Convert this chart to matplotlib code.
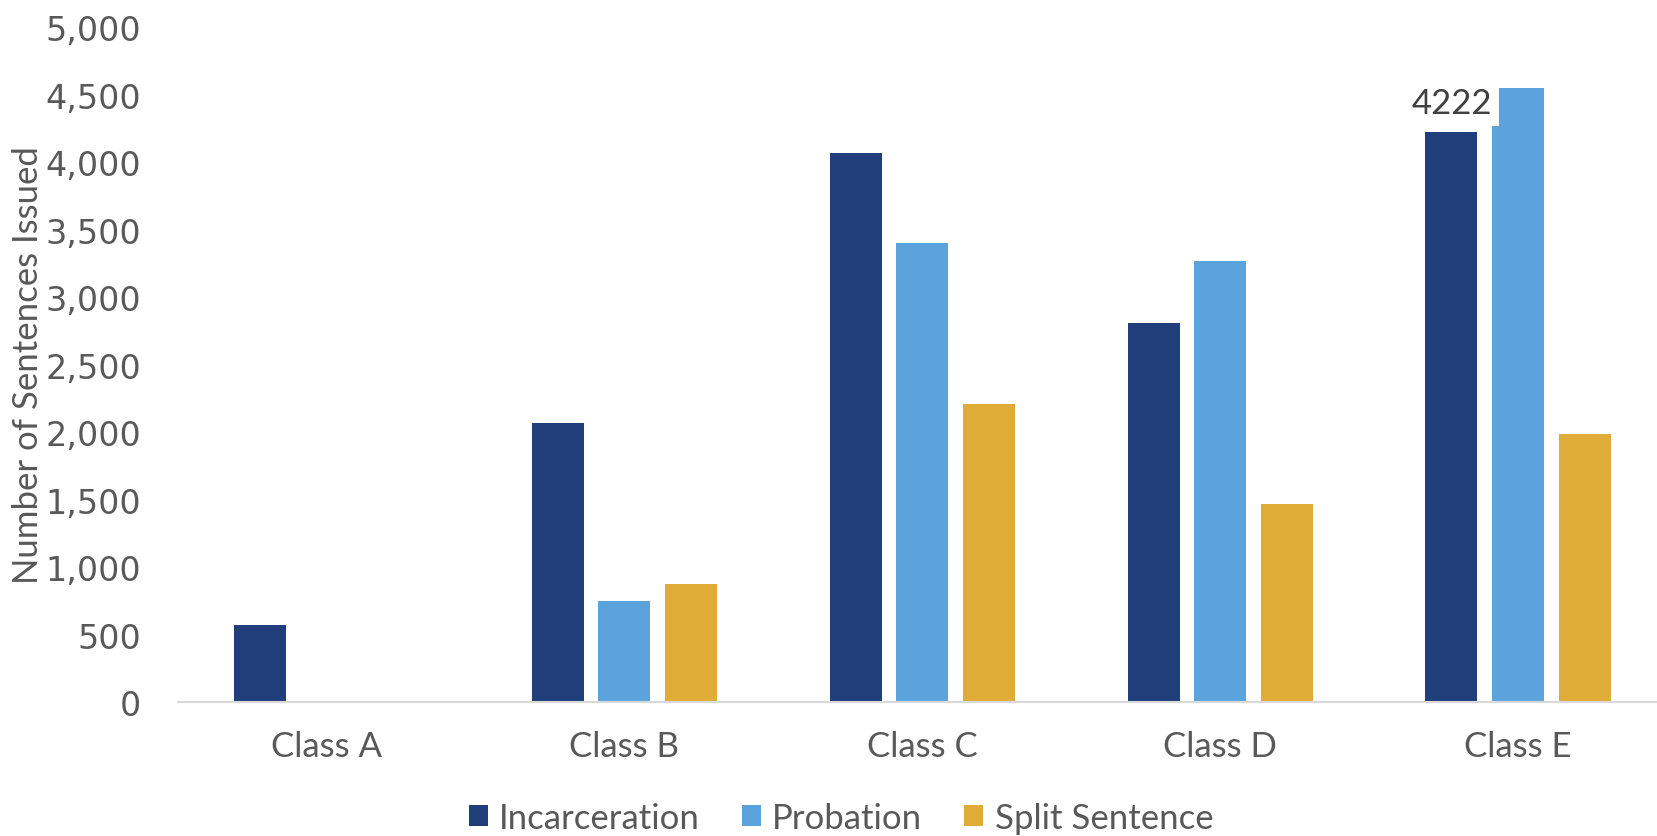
import matplotlib
matplotlib.use("Agg")
import matplotlib.pyplot as plt
import numpy as np
from matplotlib.ticker import FuncFormatter

categories = ["Class A", "Class B", "Class C", "Class D", "Class E"]
series_names = ["Incarceration", "Probation", "Split Sentence"]
incarceration = [572, 2069, 4067, 2806, 4222]
probation = [0, 752, 3401, 3268, 4553]
split_sentence = [0, 878, 2210, 1465, 1990]
colors = ["#203E7A", "#5BA3DC", "#E0AC38"]
yticks = [0, 500, 1000, 1500, 2000, 2500, 3000, 3500, 4000, 4500, 5000]

W, H = 1657, 837
fig = plt.figure(figsize=(W / 100, H / 100), dpi=100)
ax = fig.add_axes([177.5 / W, 134 / H, 1489.5 / W, 674.5 / H])

x = np.arange(len(categories))
offset = 0.2236
width = 0.1746
all_series = [incarceration, probation, split_sentence]
for i, (vals, name, c) in enumerate(zip(all_series, series_names, colors)):
    ax.bar(x + (i - 1) * offset, vals, width=width, color=c, label=name,
           edgecolor="none", zorder=2)

# data label
ax.text(x[4] - offset, incarceration[4] + 215, str(incarceration[4]),
        ha="center", va="center", fontsize=25, family="Lato", color="#404040",
        bbox=dict(facecolor="white", edgecolor="none", pad=5), zorder=3)

ax.set_xlim(-0.5, 4.5)
ax.set_ylim(0, 5000)
ax.set_yticks(yticks)
ax.yaxis.set_major_formatter(FuncFormatter(lambda v, p: f"{int(v):,}"))
ax.set_xticks(x)
ax.set_xticklabels(categories, family="Lato", fontsize=25, color="#595959")
for lab in ax.get_yticklabels():
    lab.set_family("DejaVu Sans")
    lab.set_fontsize(24)
    lab.set_color("#595959")
ax.tick_params(axis="y", length=0, pad=26)
ax.tick_params(axis="x", length=0, pad=20)
for s in ["top", "right", "left"]:
    ax.spines[s].set_visible(False)
ax.spines["bottom"].set_color("#D9D9D9")
ax.spines["bottom"].set_linewidth(1.5)

fig.text(28.5 / W, 1 - 365 / H, "Number of Sentences Issued", rotation=90,
         ha="center", va="center", family="Lato", fontsize=25, color="#595959")

leg = fig.legend(loc="center", bbox_to_anchor=(841 / W, 18 / H), ncol=3,
                 frameon=False, prop=dict(family="Lato", size=25),
                 handlelength=0.55, handleheight=0.55, handletextpad=0.33,
                 columnspacing=1.2, borderpad=0, borderaxespad=0)
for t in leg.get_texts():
    t.set_color("#595959")

fig.savefig("out.png", dpi=100)
